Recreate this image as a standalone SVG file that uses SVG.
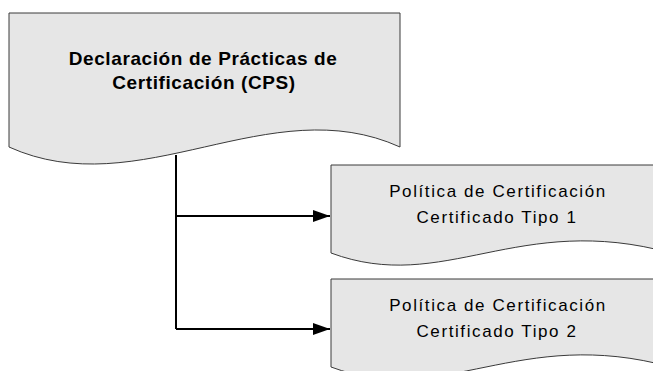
<svg xmlns="http://www.w3.org/2000/svg" width="653" height="371" viewBox="0 0 653 371">
<style>
.doc{fill:#e6e6e6;stroke:#3a3a3a;stroke-width:1}
.t{font-family:"Liberation Sans",Arial,sans-serif;fill:#000;text-anchor:middle}
.b{font-weight:bold;font-size:19px;letter-spacing:0.6px}
.r{font-size:17px;letter-spacing:1.6px}
.c{fill:none;stroke:#000;stroke-width:2}
</style>
<defs>
<marker id="ah" markerWidth="17" markerHeight="12" refX="17" refY="6" orient="auto" markerUnits="userSpaceOnUse">
<path d="M0,0 L17,6 L0,12 Z" fill="#000"/>
</marker>
</defs>
<g id="cps">
<path class="doc" d="M9,13 H400 V147 C269.7,88 139.3,206 9,147 Z"/>
<text class="t b" x="203" y="65">Declaración de Prácticas de</text>
<text class="t b" x="204" y="89">Certificación (CPS)</text>
</g>
<g id="pol1">
<path class="doc" d="M331,165 H671 V253 C518,211 444,295 331,253 Z"/>
<text class="t r" x="498" y="197">Política de Certificación</text>
<text class="t r" x="497" y="223">Certificado Tipo 1</text>
</g>
<g id="pol2">
<path class="doc" d="M331,279 H671 V367 C518,325 444,409 331,367 Z"/>
<text class="t r" x="498" y="311">Política de Certificación</text>
<text class="t r" x="497" y="337">Certificado Tipo 2</text>
</g>
<g id="connectors">
<path class="c" d="M176,155 V329"/>
<path class="c" d="M176,216 H330" marker-end="url(#ah)"/>
<path class="c" d="M176,329 H330" marker-end="url(#ah)"/>
</g>
</svg>
